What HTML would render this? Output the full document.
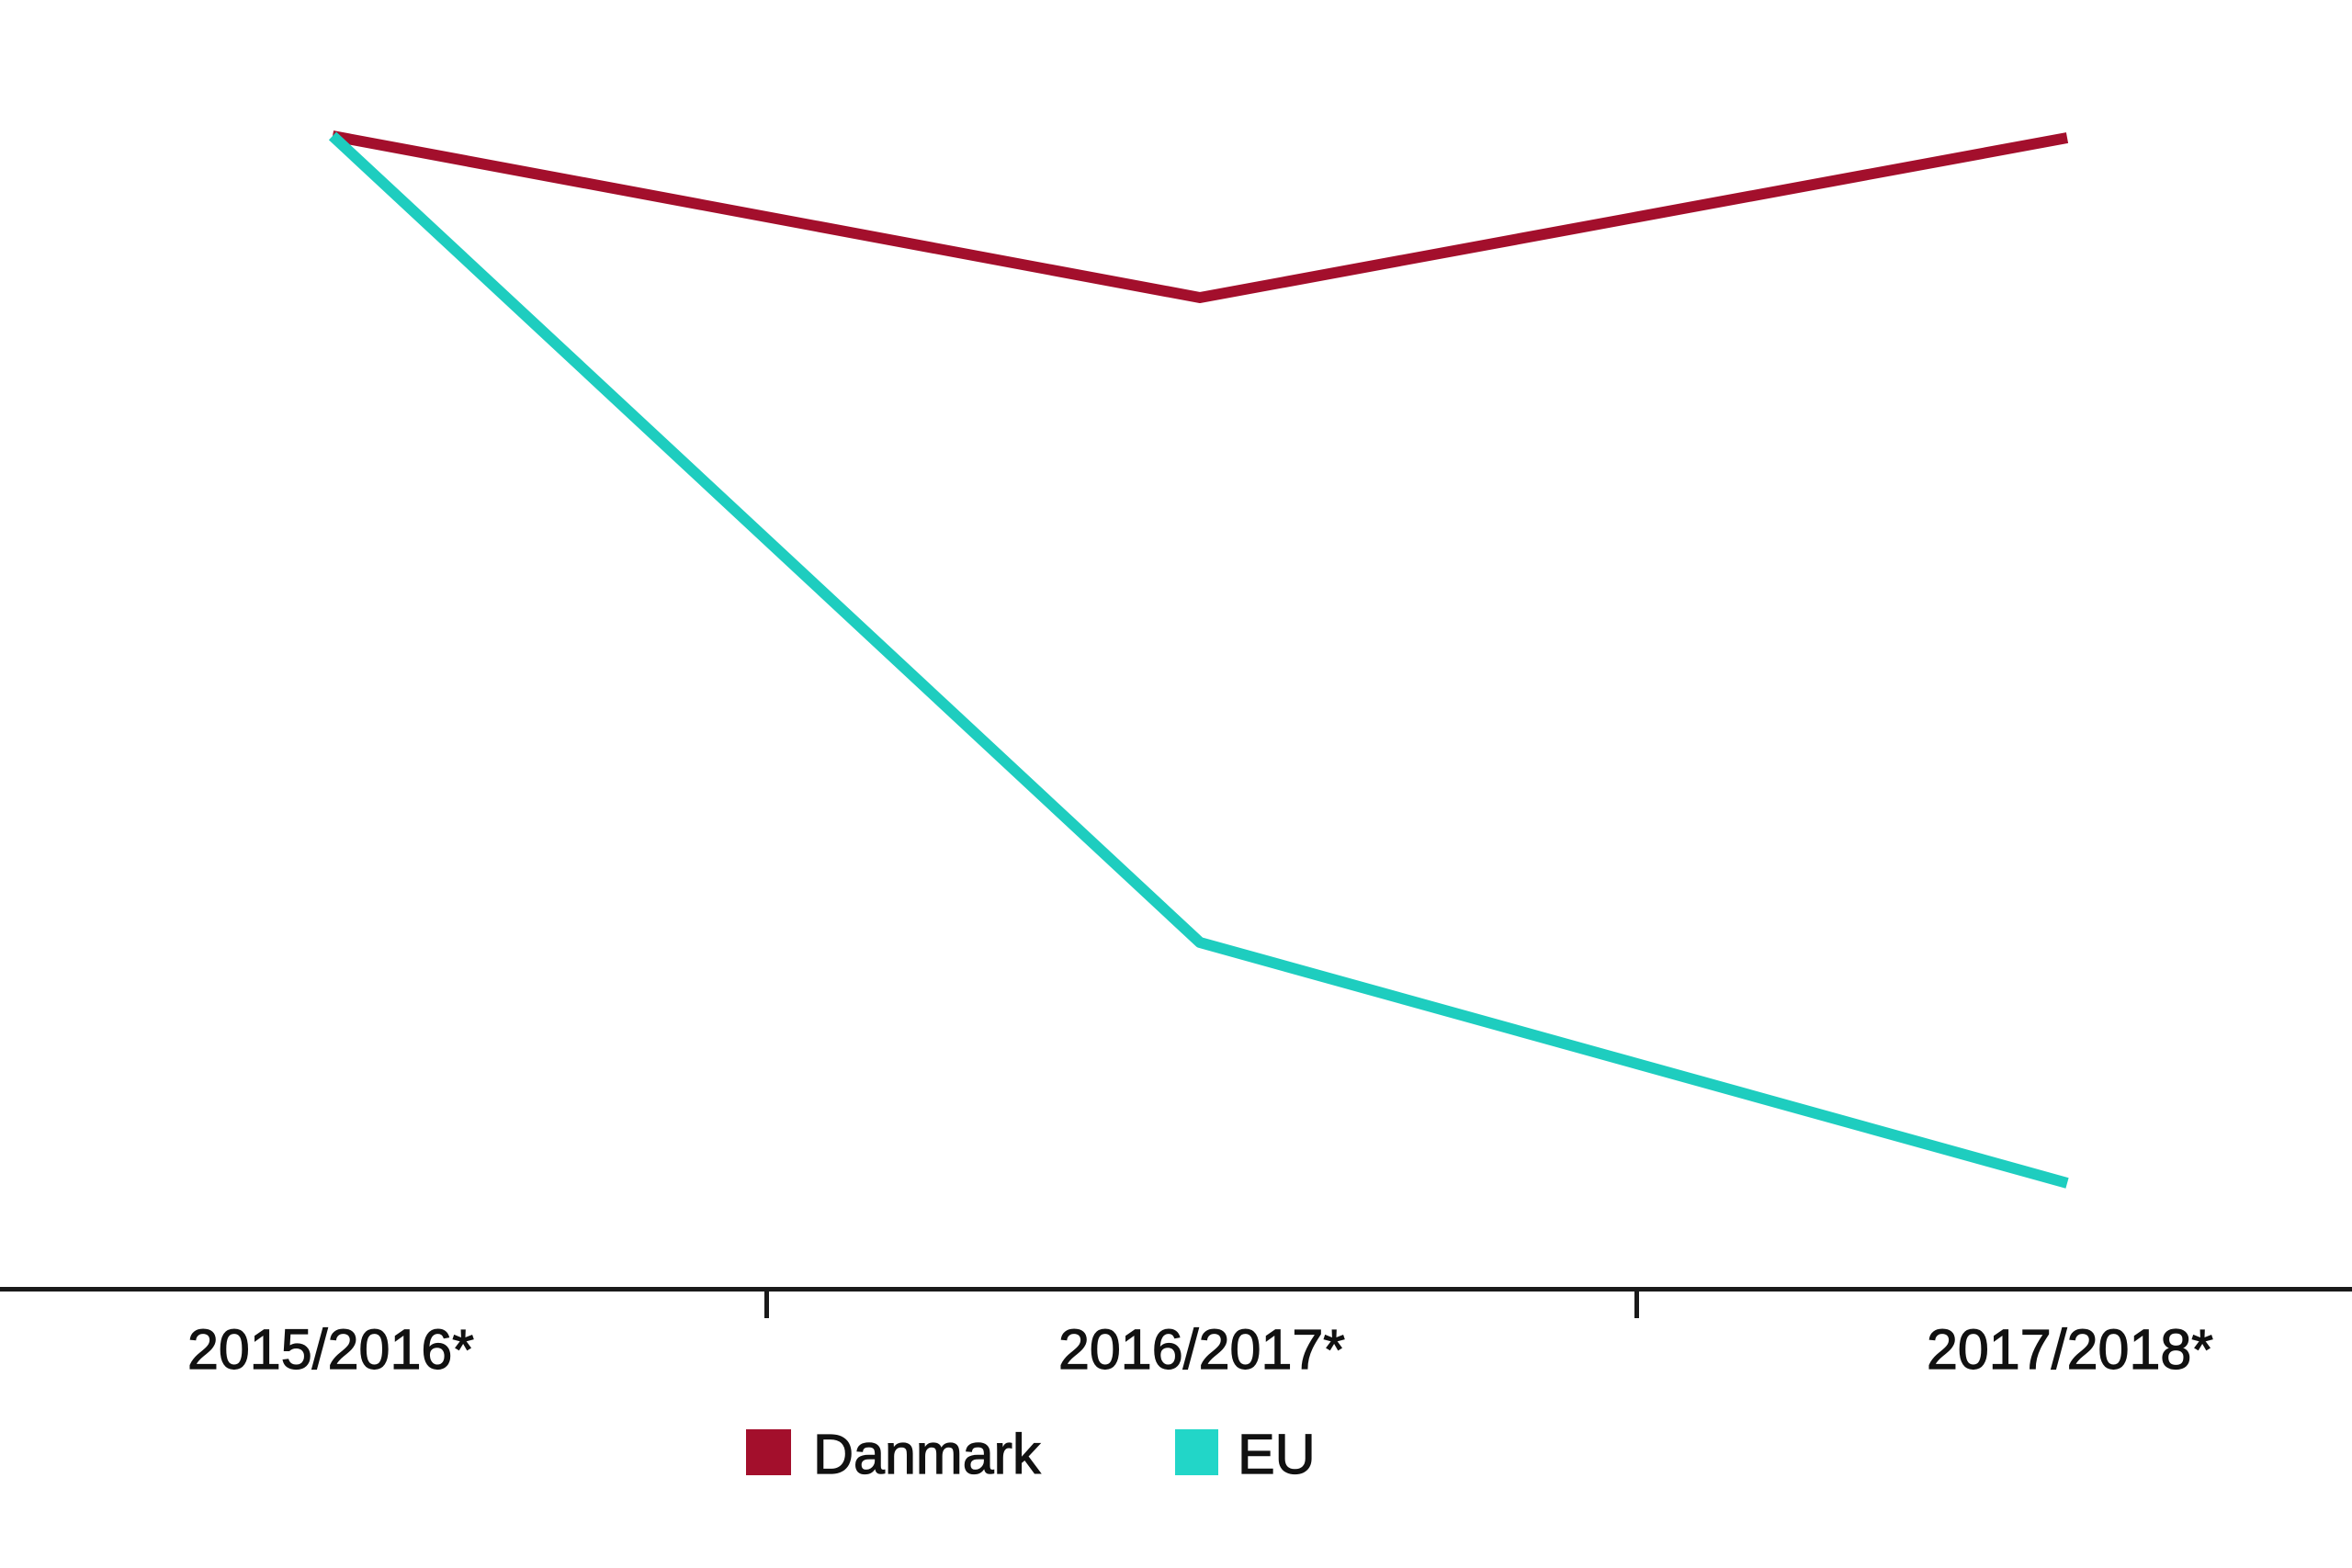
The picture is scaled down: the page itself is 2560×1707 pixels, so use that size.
<!DOCTYPE html>
<html>
<head>
<meta charset="utf-8">
<style>
html,body{margin:0;padding:0;background:#fff;}
body{width:2560px;height:1707px;overflow:hidden;}
svg{display:block;}
text{font-family:"Liberation Sans",Arial,sans-serif;fill:#111;stroke:#111;stroke-width:1.2px;}
</style>
</head>
<body>
<svg width="2560" height="1707" viewBox="0 0 2560 1707" xmlns="http://www.w3.org/2000/svg">
  <rect x="0" y="0" width="2560" height="1707" fill="#ffffff"/>
  <!-- axis -->
  <rect x="0" y="1401" width="2560" height="5" fill="#1a1a1a"/>
  <rect x="832" y="1401" width="5" height="34" fill="#1a1a1a"/>
  <rect x="1779" y="1401" width="5" height="34" fill="#1a1a1a"/>
  <!-- series -->
  <polyline points="362,148 1306,324 2250,150" fill="none" stroke="#a30f2c" stroke-width="12" stroke-linejoin="round"/>
  <polyline points="362,148 1306,1026 2250,1288" fill="none" stroke="#1ecdbf" stroke-width="12" stroke-linejoin="round"/>
  <!-- x labels -->
  <text x="360" y="1490" font-size="61" text-anchor="middle">2015/2016*</text>
  <text x="1308" y="1490" font-size="61" text-anchor="middle">2016/2017*</text>
  <text x="2253" y="1490" font-size="61" text-anchor="middle">2017/2018*</text>
  <!-- legend -->
  <rect x="812" y="1556" width="49" height="50" fill="#a30f2c"/>
  <text x="885" y="1604" font-size="61">Danmark</text>
  <rect x="1279" y="1556" width="47" height="50" fill="#22d6c8"/>
  <text x="1347" y="1604" font-size="61">EU</text>
</svg>
</body>
</html>
